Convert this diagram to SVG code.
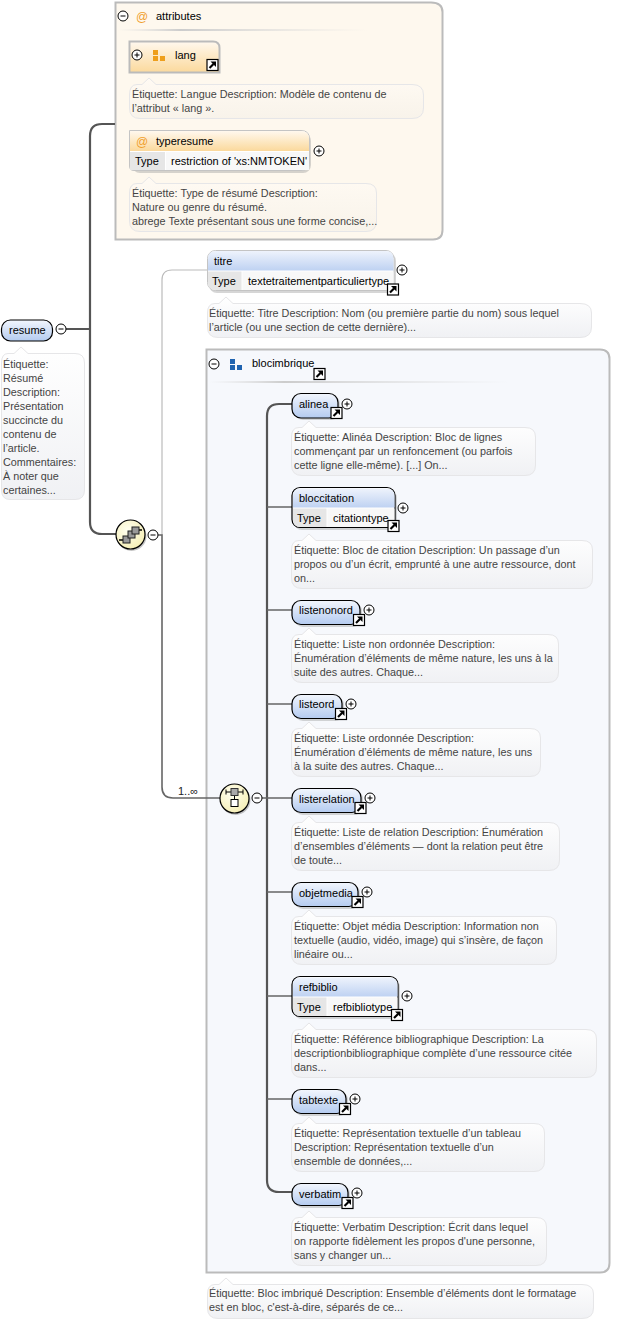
<svg xmlns="http://www.w3.org/2000/svg" xmlns:xlink="http://www.w3.org/1999/xlink" width="628" height="1321" viewBox="0 0 628 1321">
<style>
text{font-family:"Liberation Sans",Arial,sans-serif;font-size:11px;fill:#000}
.c text{fill:#444;font-size:10.8px}
.cb{fill:url(#gc);stroke:#e6e6e8;stroke-width:1}
.el{fill:url(#gb);stroke:#000;stroke-width:1.2}
.shadow{fill:#999;opacity:.4}
.tl{fill:#e6e6e6}
.tv{fill:#f8f8f8}
.dark{fill:none;stroke:#555;stroke-width:2.2}
.mid{fill:none;stroke:#666;stroke-width:1.6}
.light{fill:none;stroke:#bbb;stroke-width:1.2}
.pm{fill:#fff;stroke:#000;stroke-width:1}
.pl{fill:none;stroke:#000;stroke-width:1}
</style>
<defs>
<linearGradient id="gb" x1="0" y1="0" x2="0" y2="1"><stop offset="0" stop-color="#f2f6fd"/><stop offset="1" stop-color="#b4cbf0"/></linearGradient>
<linearGradient id="gt" x1="0" y1="0" x2="0" y2="1"><stop offset="0" stop-color="#eef3fc"/><stop offset="1" stop-color="#bfd2f2"/></linearGradient>
<linearGradient id="go" x1="0" y1="0" x2="0" y2="1"><stop offset="0" stop-color="#fff8ee"/><stop offset="1" stop-color="#fbd99c"/></linearGradient>
<linearGradient id="gc" x1="0" y1="0" x2="0" y2="1"><stop offset="0" stop-color="#fff"/><stop offset="1" stop-color="#f0f1f4"/></linearGradient>
<linearGradient id="gco" x1="0" y1="0" x2="0" y2="1"><stop offset="0" stop-color="#fffaf3"/><stop offset="1" stop-color="#f8f3ea"/></linearGradient>
<linearGradient id="sep" x1="0" y1="0" x2="1" y2="0"><stop offset="0" stop-color="#ddd" stop-opacity="0"/><stop offset=".25" stop-color="#ccc"/><stop offset="1" stop-color="#ddd" stop-opacity="0"/></linearGradient>
<radialGradient id="gy" cx=".4" cy=".35" r=".7"><stop offset="0" stop-color="#fffff0"/><stop offset="1" stop-color="#f5eeb4"/></radialGradient>
<g id="link"><rect x="-5.500" y="-5.500" width="11" height="11" fill="#fff" stroke="#000" stroke-width="1.200"/><path d="M-3 3L1 -1" stroke="#000" stroke-width="2.200" fill="none"/><path d="M-2 -3.500H3.500V2Z" fill="#000"/></g>
<g id="plus"><circle r="5" class="pm"/><path d="M-2.500 0H2.500M0 -2.500V2.500" class="pl"/></g>
<g id="minus"><circle r="5" class="pm"/><path d="M-2.500 0H2.500" class="pl"/></g>
</defs>

<g id="attributes">
<path d="M116 2.500H431Q442.500 2.500 442.500 12V230Q442.500 239.500 433 239.500H115.500V2.500Z" fill="#fef8ee" stroke="#bbb" stroke-width="2"/>
<rect x="118" y="29" width="250" height="2" fill="url(#sep)"/>
<use xlink:href="#minus" x="123" y="16"/>
<text x="136" y="21" style="fill:#f0a030;font-size:12px">@</text>
<text x="156" y="20">attributes</text>
</g>

<g id="blocimbrique">
<path d="M206.500 349.500H600Q609.500 349.500 609.500 359V1263Q609.500 1272.500 600 1272.500H206.500Z" fill="#f6f8fc" stroke="#bbb" stroke-width="2"/>
<rect x="209" y="381" width="300" height="2" fill="url(#sep)"/>
<use xlink:href="#minus" x="214" y="364"/>
<path d="M230 359h5v5h-5zM230 365h5v5h-5zM237 365h5v5h-5z" fill="#1f63b0"/>
<text x="252" y="367">blocimbrique</text>
<use xlink:href="#link" x="319.500" y="374"/>
</g>

<g id="connectors">
<path class="light" d="M207 270H172Q162 270 162 280V535"/>
<path class="dark" d="M66 329H90M115 124H102Q90 124 90 136V522Q90 534 102 534H116"/>
<path class="mid" d="M158 535H162V787Q162 798 173 798H220"/>
<path class="dark" d="M292 404H279Q267 404 267 416V1180Q267 1192 279 1192H292"/>
<path class="mid" d="M262 798H292M267 507H292M267 610H292M267 704H292M267 892H292M267 996H292M267 1099H292"/>
</g>

<g id="lang">
<path d="M129.500 41.500H213Q219.500 41.500 219.500 48V72.500H129.500Z" fill="url(#go)" stroke="#bbb" stroke-width="2"/>
<use xlink:href="#plus" x="137" y="55"/>
<path d="M153 50h5v5h-5zM153 56h5v5h-5zM160 56h5v5h-5z" fill="#ee9f1c"/>
<text x="175" y="59">lang</text>
<use xlink:href="#link" x="212.500" y="65"/>
</g>
<g id="comment-lang" class="c">
<path class="cb" style="fill:url(#gco)" d="M137 84.500H142L149 78L156 84.500H412Q423.500 84.500 423.500 95V108Q423.500 118.500 412 118.500H140Q129.500 118.500 129.500 108V95Q129.500 84.500 137 84.500Z"/>
<text x="132" y="98">Étiquette: Langue Description: Modèle de contenu de</text>
<text x="132" y="112">l’attribut « lang ».</text>
</g>

<g id="typeresume">
<rect x="132" y="133" width="179" height="40" rx="8" class="shadow"/>
<path d="M129.500 130.500H301Q309.500 130.500 309.500 139V163Q309.500 170.500 301 170.500H134Q129.500 170.500 129.500 166Z" fill="#fff" stroke="#c4c4c4" stroke-width="1"/>
<path d="M130 131H301Q309 131 309 139V151H130Z" fill="url(#go)"/>
<rect x="130" y="152" width="35" height="18" class="tl"/>
<rect x="166" y="152" width="143" height="18" class="tv"/>
<text x="136" y="146" style="fill:#f0a030;font-size:12px">@</text>
<text x="156" y="145">typeresume</text>
<text x="135" y="165">Type</text>
<text x="171" y="165">restriction of 'xs:NMTOKEN'</text>
<use xlink:href="#plus" x="319" y="151"/>
</g>
<g id="comment-typeresume" class="c">
<path class="cb" style="fill:url(#gco)" d="M137 183.500H142L149 177L156 183.500H366Q376.500 183.500 376.500 193V221Q376.500 231.500 366 231.500H140Q129.500 231.500 129.500 221V193Q129.500 183.500 137 183.500Z"/>
<text x="132" y="197">Étiquette: Type de résumé Description:</text>
<text x="132" y="211">Nature ou genre du résumé.</text>
<text x="132" y="225">abrege Texte présentant sous une forme concise,...</text>
</g>

<g id="resume">
<rect x="1.500" y="320" width="51" height="21" rx="9" class="el"/>
<text x="9" y="334">resume</text>
<use xlink:href="#minus" x="61" y="329"/>
</g>
<g id="comment-resume" class="c">
<path class="cb" d="M8 353.500H14L21 347L28 353.500H75Q84.500 353.500 84.500 363V490Q84.500 499.500 75 499.500H10Q1.500 499.500 1.500 490V363Q1.500 353.500 8 353.500Z"/>
<text x="3" y="368">Étiquette:</text>
<text x="3" y="382">Résumé</text>
<text x="3" y="396">Description:</text>
<text x="3" y="410">Présentation</text>
<text x="3" y="424">succincte du</text>
<text x="3" y="438">contenu de</text>
<text x="3" y="452">l’article.</text>
<text x="3" y="466">Commentaires:</text>
<text x="3" y="480">À noter que</text>
<text x="3" y="494">certaines...</text>
</g>

<g id="sequence">
<circle cx="131.500" cy="536" r="15" fill="#888" opacity=".5"/>
<circle cx="130.500" cy="534.500" r="14.500" fill="url(#gy)" stroke="#000" stroke-width="1.200"/>
<path d="M119 540H125M136 530H142" stroke="#000" stroke-width="1.400" fill="none"/>
<rect x="123" y="536" width="7" height="7" fill="#999" stroke="#222"/>
<rect x="128" y="531" width="7" height="7" fill="#999" stroke="#222"/>
<rect x="132" y="527" width="7" height="7" fill="#999" stroke="#222"/>
<use xlink:href="#minus" x="153" y="535"/>
</g>

<g id="titre">
<rect x="209" y="253" width="187" height="40" rx="8" class="shadow"/>
<rect x="207.500" y="250.500" width="186.500" height="40" rx="8" fill="#fff" stroke="#c4c4c4"/>
<path d="M208 270.500V259Q208 251 216 251H386Q393.500 251 393.500 259V270.500Z" fill="url(#gt)"/>
<path d="M208 271.500H241.500V290H216Q208 290 208 283Z" class="tl"/>
<path d="M242.500 271.500H393.500V283Q393.500 290 386 290H242.500Z" class="tv"/>
<text x="214" y="265">titre</text>
<text x="212" y="285">Type</text>
<text x="248" y="285">textetraitementparticuliertype</text>
<use xlink:href="#plus" x="402" y="270"/>
<use xlink:href="#link" x="393" y="289.500"/>
</g>
<g id="comment-titre" class="c">
<path class="cb" d="M215 303.500H219L226 297L233 303.500H580Q591.500 303.500 591.500 313V327Q591.500 337.500 580 337.500H218Q207.500 337.500 207.500 327V313Q207.500 303.500 215 303.500Z"/>
<text x="209" y="317">Étiquette: Titre Description: Nom (ou première partie du nom) sous lequel</text>
<text x="209" y="331">l’article (ou une section de cette dernière)...</text>
</g>

<g id="comment-blocimbrique" class="c">
<path class="cb" d="M215 1284.500H219L226 1278L233 1284.500H582Q593.500 1284.500 593.500 1294V1308Q593.500 1318.500 582 1318.500H218Q207.500 1318.500 207.500 1308V1294Q207.500 1284.500 215 1284.500Z"/>
<text x="209" y="1297">Étiquette: Bloc imbriqué Description: Ensemble d’éléments dont le formatage</text>
<text x="209" y="1311">est en bloc, c'est-à-dire, séparés de ce...</text>
</g>

<g id="choice">
<circle cx="235.500" cy="800" r="15" fill="#888" opacity=".5"/>
<circle cx="234.500" cy="798.500" r="14.500" fill="url(#gy)" stroke="#000" stroke-width="1.200"/>
<path d="M226 792H243M226 789.500V794.500M243 789.500V794.500M234.500 796V800" stroke="#000" fill="none"/>
<rect x="231" y="788.500" width="7" height="7" fill="#aaa" stroke="#333"/>
<rect x="231" y="799.500" width="7" height="7" fill="#fff" stroke="#000"/>
<use xlink:href="#minus" x="257" y="798"/>
</g>
<text id="card" x="178" y="795" style="fill:#222">1..∞</text>

<g id="alinea">
<rect x="294" y="395" width="46" height="25" rx="9" class="shadow"/>
<rect x="292" y="393.500" width="46" height="24.500" rx="9" class="el"/>
<text x="299" y="408">alinea</text>
<use xlink:href="#plus" x="347" y="404"/>
<use xlink:href="#link" x="336.500" y="413"/>
</g>
<g id="comment-alinea" class="c">
<path class="cb" d="M299 427.500H302L309 421L316 427.500H525Q535.500 427.500 535.500 437V465Q535.500 475.500 525 475.500H302Q291.500 475.500 291.500 465V437Q291.500 427.500 299 427.500Z"/>
<text x="294" y="441">Étiquette: Alinéa Description: Bloc de lignes</text>
<text x="294" y="455">commençant par un renfoncement (ou parfois</text>
<text x="294" y="469">cette ligne elle-même). [...] On...</text>
</g>

<g id="bloccitation">
<rect x="294" y="490" width="103" height="40" rx="8" class="shadow"/>
<rect x="292" y="487.500" width="103" height="40" rx="8" fill="#fff" stroke="#000" stroke-width="1.200"/>
<path d="M293 507.500V496Q293 488.500 300 488.500H387Q394.500 488.500 394.500 496V507.500Z" fill="url(#gt)"/>
<path d="M293 508.500H326.500V527H300Q293 527 293 520Z" class="tl"/>
<path d="M327.500 508.500H394.500V520Q394.500 527 387 527H327.500Z" class="tv"/>
<text x="299" y="502">bloccitation</text>
<text x="297" y="522">Type</text>
<text x="333" y="522">citationtype</text>
<use xlink:href="#plus" x="403" y="508"/>
<use xlink:href="#link" x="393.500" y="526"/>
</g>
<g id="comment-bloccitation" class="c">
<path class="cb" d="M299 540.500H302L309 534L316 540.500H582Q592.500 540.500 592.500 550V578Q592.500 588.500 582 588.500H302Q291.500 588.500 291.500 578V550Q291.500 540.500 299 540.500Z"/>
<text x="294" y="554">Étiquette: Bloc de citation Description: Un passage d’un</text>
<text x="294" y="568">propos ou d’un écrit, emprunté à une autre ressource, dont</text>
<text x="294" y="582">on...</text>
</g>

<g id="listenonord">
<rect x="294" y="602" width="68" height="25" rx="9" class="shadow"/>
<rect x="292" y="600.500" width="68" height="24" rx="9" class="el"/>
<text x="299" y="614">listenonord</text>
<use xlink:href="#plus" x="369" y="610"/>
<use xlink:href="#link" x="359" y="620"/>
</g>
<g id="comment-listenonord" class="c">
<path class="cb" d="M299 634.500H302L309 628L316 634.500H548Q558.500 634.500 558.500 644V672Q558.500 682.500 548 682.500H302Q291.500 682.500 291.500 672V644Q291.500 634.500 299 634.500Z"/>
<text x="294" y="648">Étiquette: Liste non ordonnée Description:</text>
<text x="294" y="662">Énumération d’éléments de même nature, les uns à la</text>
<text x="294" y="676">suite des autres. Chaque...</text>
</g>

<g id="listeord">
<rect x="294" y="696" width="50" height="25" rx="9" class="shadow"/>
<rect x="292" y="694.500" width="50" height="24" rx="9" class="el"/>
<text x="299" y="708">listeord</text>
<use xlink:href="#plus" x="351" y="704"/>
<use xlink:href="#link" x="341" y="714"/>
</g>
<g id="comment-listeord" class="c">
<path class="cb" d="M299 728.500H302L309 722L316 728.500H530Q540.500 728.500 540.500 738V766Q540.500 776.500 530 776.500H302Q291.500 776.500 291.500 766V738Q291.500 728.500 299 728.500Z"/>
<text x="294" y="742">Étiquette: Liste ordonnée Description:</text>
<text x="294" y="756">Énumération d’éléments de même nature, les uns</text>
<text x="294" y="770">à la suite des autres. Chaque...</text>
</g>

<g id="listerelation">
<rect x="294" y="790" width="69" height="25" rx="9" class="shadow"/>
<rect x="292" y="788.500" width="69" height="24" rx="9" class="el"/>
<text x="299" y="803">listerelation</text>
<use xlink:href="#plus" x="370" y="798"/>
<use xlink:href="#link" x="360.500" y="808"/>
</g>
<g id="comment-listerelation" class="c">
<path class="cb" d="M299 822.500H302L309 816L316 822.500H549Q559.500 822.500 559.500 832V860Q559.500 870.500 549 870.500H302Q291.500 870.500 291.500 860V832Q291.500 822.500 299 822.500Z"/>
<text x="294" y="836">Étiquette: Liste de relation Description: Énumération</text>
<text x="294" y="850">d’ensembles d’éléments — dont la relation peut être</text>
<text x="294" y="864">de toute...</text>
</g>

<g id="objetmedia">
<rect x="294" y="884" width="66" height="25" rx="9" class="shadow"/>
<rect x="292" y="882.500" width="66" height="24" rx="9" class="el"/>
<text x="299" y="897">objetmedia</text>
<use xlink:href="#plus" x="367" y="892"/>
<use xlink:href="#link" x="357.500" y="902"/>
</g>
<g id="comment-objetmedia" class="c">
<path class="cb" d="M299 916.500H302L309 910L316 916.500H546Q556.500 916.500 556.500 926V954Q556.500 964.500 546 964.500H302Q291.500 964.500 291.500 954V926Q291.500 916.500 299 916.500Z"/>
<text x="294" y="930">Étiquette: Objet média Description: Information non</text>
<text x="294" y="944">textuelle (audio, vidéo, image) qui s’insère, de façon</text>
<text x="294" y="958">linéaire ou...</text>
</g>

<g id="refbiblio">
<rect x="294" y="979" width="106" height="40" rx="8" class="shadow"/>
<rect x="292" y="976.500" width="106" height="40" rx="8" fill="#fff" stroke="#000" stroke-width="1.200"/>
<path d="M293 996.500V985Q293 977.500 300 977.500H390Q397.500 977.500 397.500 985V996.500Z" fill="url(#gt)"/>
<path d="M293 997.500H326.500V1016H300Q293 1016 293 1009Z" class="tl"/>
<path d="M327.500 997.500H397.500V1009Q397.500 1016 390 1016H327.500Z" class="tv"/>
<text x="299" y="991">refbiblio</text>
<text x="297" y="1011">Type</text>
<text x="333" y="1011">refbibliotype</text>
<use xlink:href="#plus" x="407" y="996"/>
<use xlink:href="#link" x="397" y="1015"/>
</g>
<g id="comment-refbiblio" class="c">
<path class="cb" d="M299 1029.500H302L309 1023L316 1029.500H586Q596.500 1029.500 596.500 1039V1067Q596.500 1077.500 586 1077.500H302Q291.500 1077.500 291.500 1067V1039Q291.500 1029.500 299 1029.500Z"/>
<text x="294" y="1043">Étiquette: Référence bibliographique Description: La</text>
<text x="294" y="1057">descriptionbibliographique complète d’une ressource citée</text>
<text x="294" y="1071">dans...</text>
</g>

<g id="tabtexte">
<rect x="294" y="1091" width="54" height="25" rx="9" class="shadow"/>
<rect x="292" y="1089.500" width="54" height="24" rx="9" class="el"/>
<text x="299" y="1104">tabtexte</text>
<use xlink:href="#plus" x="355" y="1099"/>
<use xlink:href="#link" x="345" y="1109"/>
</g>
<g id="comment-tabtexte" class="c">
<path class="cb" d="M299 1123.500H302L309 1117L316 1123.500H534Q544.500 1123.500 544.500 1133V1161Q544.500 1171.500 534 1171.500H302Q291.500 1171.500 291.500 1161V1133Q291.500 1123.500 299 1123.500Z"/>
<text x="294" y="1137">Étiquette: Représentation textuelle d’un tableau</text>
<text x="294" y="1151">Description: Représentation textuelle d’un</text>
<text x="294" y="1165">ensemble de données,...</text>
</g>

<g id="verbatim">
<rect x="294" y="1185" width="56" height="23" rx="9" class="shadow"/>
<rect x="292" y="1183.500" width="56" height="22" rx="9" class="el"/>
<text x="299" y="1198">verbatim</text>
<use xlink:href="#plus" x="357" y="1193"/>
<use xlink:href="#link" x="347.500" y="1203"/>
</g>
<g id="comment-verbatim" class="c">
<path class="cb" d="M299 1217.500H302L309 1211L316 1217.500H536Q546.500 1217.500 546.500 1227V1255Q546.500 1265.500 536 1265.500H302Q291.500 1265.500 291.500 1255V1227Q291.500 1217.500 299 1217.500Z"/>
<text x="294" y="1231">Étiquette: Verbatim Description: Écrit dans lequel</text>
<text x="294" y="1245">on rapporte fidèlement les propos d'une personne,</text>
<text x="294" y="1259">sans y changer un...</text>
</g>
</svg>
